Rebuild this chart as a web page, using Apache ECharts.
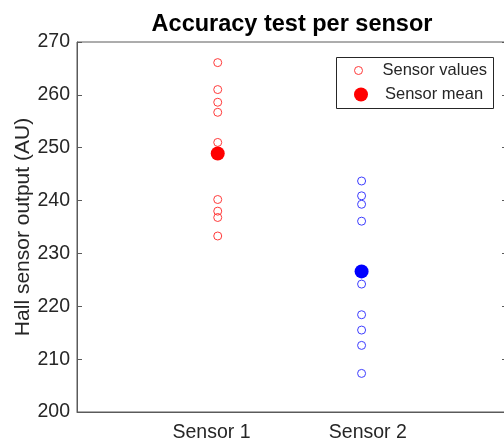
<!DOCTYPE html>
<html>
<head>
<meta charset="utf-8">
<script src="https://cdn.jsdelivr.net/npm/echarts@6/dist/echarts.min.js"></script>
<style>
    html, body { margin: 0; padding: 0; background: #fff; }
    #chart { width: 504px; height: 446px; }
</style>
</head>
<body>
<div id="chart"></div>
<script>
// Catégories et positions sur l'axe x
const categories = ["Sensor 1", "Sensor 2"];
const categoryPos = [1, 2];
const markerPos = [1.04, 1.96];

// Valeurs
const sensor1Values = [266.1, 261.0, 258.6, 256.7, 251.0, 240.2, 238.0, 236.8, 233.3];
const sensor2Values = [243.7, 240.9, 239.3, 236.1, 224.2, 218.4, 215.5, 212.6, 207.3];
const sensorMeans = [248.9, 226.6];

const yMin = 200;
const yMax = 270;
const yStep = 10;

const font = "'Liberation Sans', Arial, sans-serif";
const textColor = "#262626";
const axisColor = "#5a5a5a";
const red = "#ff0000";
const blue = "#0000ff";
const redLight = "#ff3a3a";
const blueLight = "#3c3cff";

function openCircles(name, x, values, color)
{
    return {
        name,
        type: "scatter",
        symbol: "circle",
        symbolSize: 8,
        itemStyle: { color: "transparent", borderColor: color, borderWidth: 1, opacity: 1 },
        data: values.map(v => [x, v]),
        silent: true
    };
}

function meanPoint(name, x, value, color)
{
    return {
        name,
        type: "scatter",
        symbol: "circle",
        symbolSize: 14,
        itemStyle: { color, opacity: 1 },
        data: [[x, value]],
        z: 3,
        silent: true
    };
}

const chart = echarts.init(document.getElementById("chart"));

chart.setOption({
    animation: false,
    title: {
        text: "Accuracy test per sensor",
        left: 287,
        textAlign: "center",
        top: 8,
        textStyle: { fontFamily: font, fontSize: 23.5, fontWeight: "bold", color: "#000" }
    },
    grid: {
        left: 77,
        top: 42,
        width: 430,
        height: 370,
        outerBoundsMode: "none",
        containLabel: false,
        show: true,
        borderColor: axisColor,
        borderWidth: 1
    },
    // Deux légendes pour avoir deux tailles de marqueurs
    legend: [
        {
            data: [{
                name: "Sensor values",
                icon: "circle",
                itemStyle: { color: "transparent", borderColor: redLight, borderWidth: 1, opacity: 1 }
            }],
            left: 354,
            top: 62,
            padding: 0,
            itemWidth: 38,
            itemHeight: 8,
            selectedMode: false,
            textStyle: { fontFamily: font, fontSize: 16.5, color: textColor }
        },
        {
            data: [{ name: "Sensor mean", icon: "circle", itemStyle: { color: red, opacity: 1 } }],
            left: 354,
            top: 86,
            padding: 0,
            itemWidth: 38,
            itemHeight: 14,
            selectedMode: false,
            textStyle: { fontFamily: font, fontSize: 16.5, color: textColor }
        }
    ],
    graphic: [{
        type: "rect",
        shape: { x: 336.5, y: 57.5, width: 157, height: 51 },
        style: { fill: "#fff", stroke: textColor, lineWidth: 1 },
        z: 0,
        zlevel: 0
    }],
    xAxis: {
        type: "value",
        min: 0.14,
        max: 2.89,
        splitLine: { show: false },
        axisLine: { lineStyle: { color: axisColor } },
        axisTick: { show: false },
        axisLabel: {
            customValues: categoryPos,
            formatter: v => categories[categoryPos.indexOf(v)] || "",
            margin: 11,
            fontFamily: font,
            fontSize: 19.5,
            color: textColor
        }
    },
    yAxis: [
        {
            type: "value",
            min: yMin,
            max: yMax,
            interval: yStep,
            name: "Hall sensor output (AU)",
            nameLocation: "middle",
            nameGap: 43,
            nameMoveOverlap: false,
            nameTextStyle: { fontFamily: font, fontSize: 21, color: textColor },
            splitLine: { show: false },
            axisLine: { lineStyle: { color: axisColor } },
            axisTick: { inside: true, length: 5, lineStyle: { color: axisColor } },
            axisLabel: { margin: 7, fontFamily: font, fontSize: 19.5, color: textColor }
        },
        {
            type: "value",
            position: "right",
            min: yMin,
            max: yMax,
            interval: yStep,
            splitLine: { show: false },
            axisLine: { lineStyle: { color: axisColor } },
            axisTick: { inside: true, length: 5, lineStyle: { color: axisColor } },
            axisLabel: { show: false }
        }
    ],
    series: [
        openCircles("Sensor values", markerPos[0], sensor1Values, redLight),
        openCircles("Sensor values", markerPos[1], sensor2Values, blueLight),
        meanPoint("Sensor mean", markerPos[0], sensorMeans[0], red),
        meanPoint("Sensor mean", markerPos[1], sensorMeans[1], blue)
    ]
});
</script>
</body>
</html>
